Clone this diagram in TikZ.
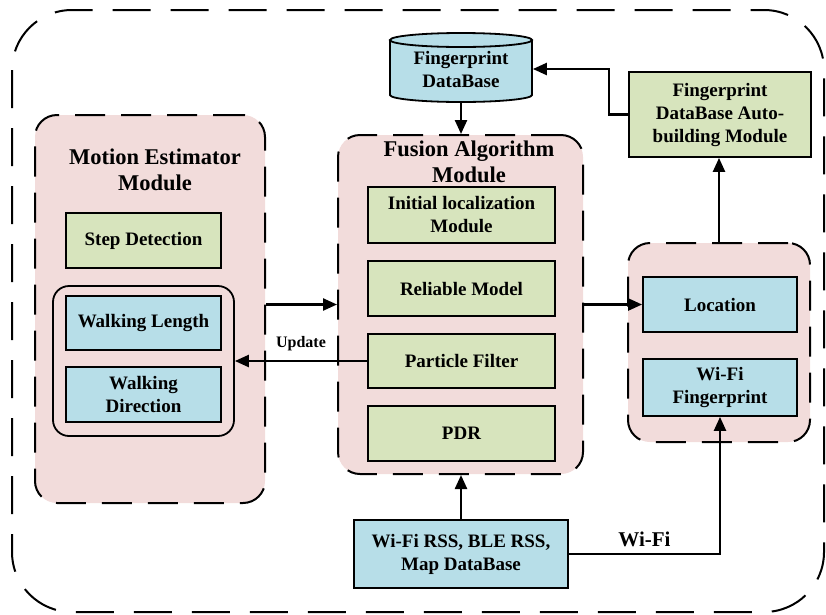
\documentclass[tikz,border=0pt]{standalone}
\usepackage{fontspec}
\setmainfont{Liberation Serif}
\usetikzlibrary{arrows.meta,calc}

\definecolor{modpink}{HTML}{F2DCDB}
\definecolor{boxgreen}{HTML}{D7E4BD}
\definecolor{boxblue}{HTML}{B7DEE8}

\tikzset{
  module/.style={draw,line width=2pt,dash pattern=on 30pt off 16pt,rounded corners=22pt,fill=modpink,inner sep=0pt},
  greenbox/.style={draw,line width=1.8pt,fill=boxgreen,align=center,inner sep=0pt,font=\bfseries\fontsize{19}{23}\selectfont},
  bluebox/.style={greenbox,fill=boxblue},
  title/.style={align=center,font=\bfseries\fontsize{22.5}{26}\selectfont},
  arr/.style={line width=2.4pt,-{Triangle[length=14pt,width=12pt]}},
}

\begin{document}
\begin{tikzpicture}[x=1pt,y=-1pt]
  \useasboundingbox (0,0) rectangle (826,614);
  % Outer frame
  \draw[line width=2pt,dash pattern=on 38pt off 20pt,rounded corners=60pt] (12,10) rectangle (824,612);
  % Motion estimator
  \node[module,minimum width=230pt,minimum height=388pt] (motion) at (150,309) {};
  \node[title] (motiontitle) at (155,170) {Motion Estimator\\Module};
  \node[greenbox,minimum width=155pt,minimum height=55pt] (step) at (143.5,240.5) {Step Detection};
  \node[draw,line width=1.8pt,rounded corners=16pt,minimum width=181pt,minimum height=150pt] (walk) at (143.5,361) {};
  \node[bluebox,minimum width=155pt,minimum height=54pt] (wlen) at (143.5,323) {Walking Length};
  \node[bluebox,minimum width=155pt,minimum height=55pt] (wdir) at (143.5,394.5) {Walking\\Direction};
  % Fusion algorithm
  \node[module,minimum width=245pt,minimum height=339pt] (fusion) at (460.5,304.5) {};
  \node[title] (fusiontitle) at (469,162) {Fusion Algorithm\\Module};
  \node[greenbox,minimum width=187pt,minimum height=56pt] (init) at (461.5,215) {Initial localization\\Module};
  \node[greenbox,minimum width=187pt,minimum height=55pt] (reliable) at (461.5,288.5) {Reliable Model};
  \node[greenbox,minimum width=187pt,minimum height=54pt] (particle) at (461.5,361) {Particle Filter};
  \node[greenbox,minimum width=187pt,minimum height=55pt] (pdr) at (461.5,433.5) {PDR};
  % Database cylinder
  \coordinate (dbc) at (461,67.5);
  \filldraw[line width=1.8pt,fill=boxblue] ($(dbc)+(-71pt,27.5pt)$) -- ($(dbc)+(-71pt,-27.5pt)$)
    arc[start angle=180,end angle=360,x radius=71pt,y radius=7pt] -- ($(dbc)+(71pt,27.5pt)$);
  \draw[line width=1.8pt,fill=boxblue] ($(dbc)+(0pt,27.5pt)$) ellipse[x radius=71pt,y radius=7pt];
  \node[greenbox,draw=none,fill=none,minimum width=142pt,minimum height=69pt] (db) at (461,69) {Fingerprint\\DataBase};
  \node[greenbox,minimum width=182pt,minimum height=85pt] (auto) at (720,114.5) {Fingerprint\\DataBase Auto-\\building Module};
  % Output module
  \node[module,minimum width=182pt,minimum height=199pt] (output) at (719,342.5) {};
  \node[bluebox,minimum width=154pt,minimum height=55pt] (loc) at (720,304.5) {Location};
  \node[bluebox,minimum width=154pt,minimum height=57pt] (wfp) at (720,387.5) {Wi-Fi\\Fingerprint};
  % Input
  \node[bluebox,minimum width=214pt,minimum height=68pt] (rss) at (461,554) {Wi-Fi RSS, BLE RSS,\\Map DataBase};
  % Connections
  \draw[arr] (rss.north) -- (rss.north |- fusion.south);
  \draw[arr] (db.south |- 0,102) -- (db.south |- fusion.north);
  \draw[arr] (auto.west) -- ++(-19,0) |- (db.east);
  \draw[arr] (output.north) -- (output.north |- auto.south);
  \draw[arr] (motion.east |- fusion.west) -- (fusion.west);
  \draw[arr] (fusion.east) -- (loc.west);
  \draw[arr] (particle.west) -- (particle.west -| walk.east)
    node[midway,above=6pt,font=\bfseries\fontsize{16}{18}\selectfont] {Update};
  \draw[arr] (rss.east) -- (rss.east -| wfp.south)
    node[midway,above=3pt,font=\bfseries\fontsize{21}{25}\selectfont] {Wi-Fi} -- (wfp.south);
\end{tikzpicture}
\end{document}
